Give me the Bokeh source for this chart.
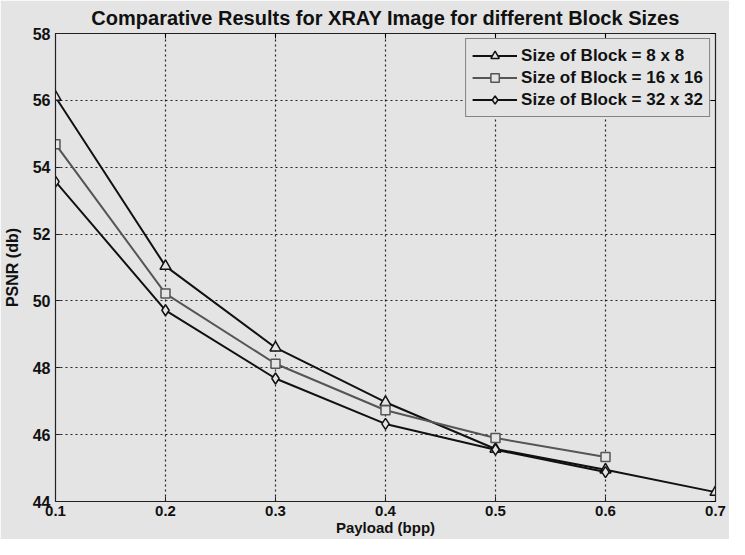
from bokeh.plotting import figure
from bokeh.models import LinearAxis, Legend, LegendItem, FixedTicker, Range1d
from bokeh.embed import file_html
from bokeh.resources import INLINE

payload = [0.1, 0.2, 0.3, 0.4, 0.5, 0.6, 0.7]
payload16 = [0.1, 0.2, 0.3, 0.4, 0.5, 0.6]
payload32 = [0.1, 0.2, 0.3, 0.4, 0.5, 0.6]
psnr_8 = [56.1, 51.04, 48.6, 46.97, 45.57, 44.95, 44.28]
psnr_16 = [54.69, 50.22, 48.12, 46.73, 45.9, 45.33]
psnr_32 = [53.57, 49.72, 47.68, 46.32, 45.55, 44.88]
x_ticks = [0.1, 0.2, 0.3, 0.4, 0.5, 0.6, 0.7]
y_ticks = [44, 46, 48, 50, 52, 54, 56, 58]
title_text = "Comparative Results for XRAY Image for different Block Sizes"
x_label = "Payload (bpp)"
y_label = "PSNR (db)"

BG = "#e4e4e4"
INK = "#111111"
FONT = "Liberation Sans"

p = figure(width=729, height=539, output_backend="svg", toolbar_location=None,
           x_range=Range1d(0.1, 0.7), y_range=Range1d(44, 58),
           min_border_left=53, min_border_right=14, min_border_top=33, min_border_bottom=38)
p.background_fill_color = BG
p.border_fill_color = BG
p.outline_line_color = "#222222"
p.outline_line_width = 1.2

p.title.text = title_text
p.title.align = "center"
p.title.text_font = FONT
p.title.text_font_style = "bold"
p.title.text_font_size = "20px"
p.title.text_color = INK
p.title.offset = 0
p.title.standoff = 9

for ax in (p.xaxis[0], p.yaxis[0]):
    ax.major_label_text_font = FONT
    ax.major_label_text_font_style = "bold"
    ax.major_label_text_color = INK
    ax.axis_label_text_font = FONT
    ax.axis_label_text_font_style = "bold"
    ax.axis_label_text_color = INK
    ax.major_tick_in = 5
    ax.major_tick_out = 0
    ax.minor_tick_line_color = None
    ax.axis_line_color = "#222222"
    ax.major_tick_line_color = "#222222"

p.xaxis.ticker = FixedTicker(ticks=x_ticks)
p.yaxis.ticker = FixedTicker(ticks=y_ticks)
p.xaxis.major_label_text_font_size = "15px"
p.yaxis.major_label_text_font_size = "16px"
p.xaxis.axis_label_text_font_size = "15px"
p.yaxis.axis_label_text_font_size = "16px"
p.xaxis.axis_label = x_label
p.yaxis.axis_label = y_label
p.xaxis.major_label_standoff = 4
p.yaxis.major_label_standoff = 5
p.xaxis.axis_label_standoff = 0
p.yaxis.axis_label_standoff = 9

top = LinearAxis(ticker=FixedTicker(ticks=x_ticks), major_label_text_color=None,
                 major_tick_in=5, major_tick_out=0, minor_tick_line_color=None,
                 axis_line_color="#222222", major_label_standoff=0)
right = LinearAxis(ticker=FixedTicker(ticks=y_ticks), major_label_text_color=None,
                   major_tick_in=5, major_tick_out=0, minor_tick_line_color=None,
                   axis_line_color="#222222", major_label_standoff=0)
p.add_layout(top, "above")
p.add_layout(right, "right")

p.grid.grid_line_color = "#222222"
p.grid.grid_line_dash = "2 3"
p.grid.grid_line_width = 1.2

l8 = p.line(payload, psnr_8, line_color=INK, line_width=2)
m8 = p.scatter(payload, psnr_8, marker="triangle", size=11, line_color=INK,
               fill_color=BG, line_width=1.5)
l16 = p.line(payload16, psnr_16, line_color="#555555", line_width=2)
m16 = p.scatter(payload16, psnr_16, marker="square", size=9, line_color="#555555",
                fill_color=BG, line_width=1.5)
l32 = p.line(payload32, psnr_32, line_color=INK, line_width=2)
m32 = p.scatter(payload32, psnr_32, marker="diamond", size=11, line_color=INK,
                fill_color=BG, line_width=1.5)

legend = Legend(items=[
    LegendItem(label="Size of Block = 8 x 8", renderers=[l8, m8]),
    LegendItem(label="Size of Block = 16 x 16", renderers=[l16, m16]),
    LegendItem(label="Size of Block = 32 x 32", renderers=[l32, m32]),
], location="top_right")
legend.background_fill_color = BG
legend.background_fill_alpha = 1
legend.border_line_color = "#222222"
legend.border_line_width = 1.2
legend.label_text_font = FONT
legend.label_text_font_style = "bold"
legend.label_text_font_size = "17px"
legend.label_text_color = INK
legend.glyph_width = 45
legend.glyph_height = 21
legend.label_height = 21
legend.spacing = 1
legend.padding = 6
legend.margin = 5
legend.label_standoff = 4
p.add_layout(legend)

open("out.html", "w").write(file_html(p, INLINE))
